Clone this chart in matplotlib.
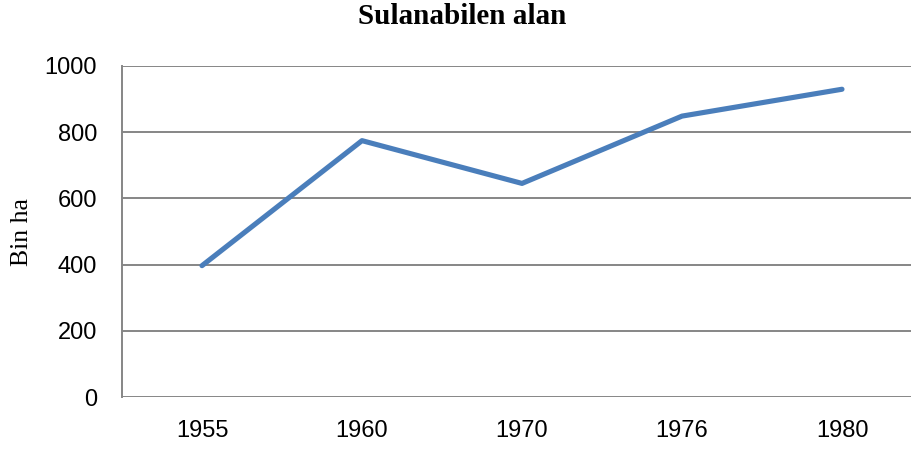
import matplotlib
matplotlib.use("Agg")
import matplotlib.pyplot as plt

years = ["1955", "1960", "1970", "1976", "1980"]
values = [397, 774, 645, 848, 929]
yticks = [0, 200, 400, 600, 800, 1000]

fig = plt.figure(figsize=(9.11, 4.49), dpi=100)
ax = fig.add_axes([122/911, 1-397.3/449, 800/911, (397.3-65.7)/449])

x = list(range(len(years)))
ax.plot(x, values, color="#4A7EBB", linewidth=3.7, solid_capstyle="round", solid_joinstyle="round", zorder=3)

ax.set_xlim(-0.5, len(years)-0.5)
ax.set_ylim(0, 1000)
ax.set_yticks(yticks)
ax.set_yticklabels([str(v) for v in yticks], fontfamily="Liberation Sans", fontsize=17)
ax.set_xticks(x)
ax.set_xticklabels(years, fontfamily="Liberation Sans", fontsize=17)
ax.tick_params(axis="both", length=0)
ax.tick_params(axis="y", pad=18)
ax.tick_params(axis="x", pad=16)
ax.yaxis.grid(True, color="#868686", linewidth=1.4)
ax.set_axisbelow(True)
for s in ["top", "right", "bottom"]:
    ax.spines[s].set_visible(False)
ax.spines["left"].set_color("#868686")
ax.spines["left"].set_linewidth(1.4)

fig.text(462/911, 1-17/449, "Sulanabilen alan", fontfamily="Liberation Serif",
         fontweight="bold", fontsize=21, ha="center", va="center")
fig.text(22/911, 1-232/449, "Bin ha", fontfamily="Liberation Serif",
         fontsize=18.5, rotation=90, ha="center", va="center")

fig.savefig("out.png", dpi=100, facecolor="white")
